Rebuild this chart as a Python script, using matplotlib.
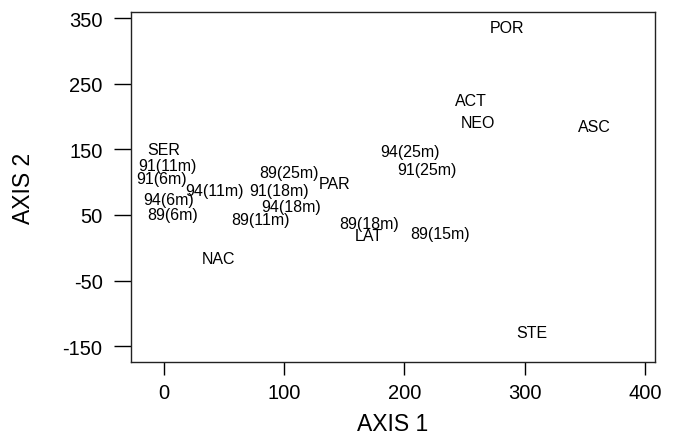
import matplotlib
matplotlib.use("Agg")
import matplotlib.pyplot as plt

labels = ["POR", "ACT", "NEO", "ASC", "SER", "91(11m)", "91(6m)", "94(11m)",
          "94(6m)", "89(6m)", "89(25m)", "PAR", "91(18m)", "94(18m)", "89(11m)",
          "NAC", "94(25m)", "91(25m)", "89(18m)", "LAT", "89(15m)", "STE"]
axis1 = [285, 255, 261, 358, 0, 3, -2, 42, 4, 7, 104, 142, 96, 106, 80,
         45, 205, 219, 171, 170, 230, 306]
axis2 = [336, 225, 191, 184, 149, 125, 106, 88, 73, 50, 114, 98, 88, 63, 43,
         -17, 146, 119, 37, 18, 22, -129]

xticks = [0, 100, 200, 300, 400]
yticks = [-150, -50, 50, 150, 250, 350]

plt.rcParams['font.family'] = ['Liberation Sans', 'DejaVu Sans']

fig = plt.figure(figsize=(6.75, 4.39), dpi=100)
ax = fig.add_axes([131/675, 1-363.3/439, (655-131)/675, (363.3-12.7)/439])

for lab, x, y in zip(labels, axis1, axis2):
    ax.text(x, y, lab, ha='center', va='center', fontsize=11.5, color='black')

ax.set_xlim(-27.5, 408.5)
ax.set_ylim(-174.4, 359.6)
ax.set_xticks(xticks)
ax.set_yticks(yticks)
ax.set_xticklabels([str(t) for t in xticks], fontsize=14.5)
ax.set_yticklabels([str(t) for t in yticks], fontsize=14.5)
ax.tick_params(axis='x', length=9, width=1, pad=6)
ax.tick_params(axis='y', length=12.5, width=1, pad=8)
for s in ax.spines.values():
    s.set_linewidth(1)
    s.set_color('#222222')
ax.set_xlabel("AXIS 1", fontsize=16.5, va='center')
ax.set_ylabel("AXIS 2", fontsize=16.5, va='center')
ax.xaxis.set_label_coords(0.5, -0.174)
ax.yaxis.set_label_coords(-0.2048, 0.5)

fig.savefig("out.png", dpi=100)
